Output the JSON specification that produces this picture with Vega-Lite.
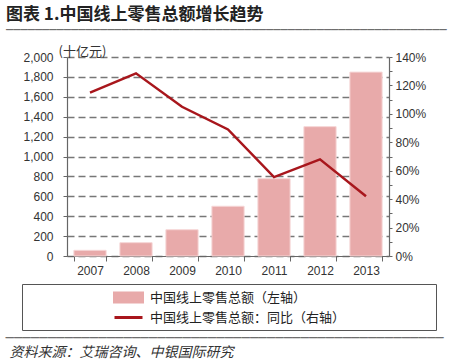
{
  "$schema": "https://vega.github.io/schema/vega-lite/v6.json",
  "autosize": "none",
  "width": 322,
  "height": 199,
  "padding": {"left": 67, "top": 57, "right": 61, "bottom": 105},
  "background": "white",
  "title": {
    "text": "图表 1.中国线上零售总额增长趋势",
    "subtitle": "_____________________________________________________________",
    "anchor": "start",
    "frame": "group",
    "dx": -61,
    "offset": 15,
    "font": "Noto Sans CJK SC",
    "fontSize": 17,
    "fontWeight": "bold",
    "color": "#222222",
    "subtitleFont": "DejaVu Sans Mono",
    "subtitleFontSize": 12,
    "subtitleFontWeight": "bold",
    "subtitleColor": "#6e6e6e",
    "subtitlePadding": -6,
    "limit": 1000
  },
  "data": {
    "values": [
      {"year": "2007", "amount": 57, "yoy": 115},
      {"year": "2008", "amount": 134, "yoy": 128.5},
      {"year": "2009", "amount": 264, "yoy": 105},
      {"year": "2010", "amount": 500, "yoy": 89},
      {"year": "2011", "amount": 777, "yoy": 55.5},
      {"year": "2012", "amount": 1300, "yoy": 68},
      {"year": "2013", "amount": 1848, "yoy": 42}
    ]
  },
  "encoding": {
    "x": {
      "field": "year",
      "type": "ordinal",
      "scale": {"paddingInner": 0.3, "paddingOuter": 0.15},
      "axis": {
        "title": "资料来源：艾瑞咨询、中银国际研究",
        "titleX": -58,
        "titleY": 100,
        "titleLimit": 1000,
        "titleAlign": "left",
        "titleAnchor": "start",
        "titleBaseline": "alphabetic",
        "titleFont": "Noto Sans CJK SC",
        "titleFontSize": 14,
        "titleFontStyle": "italic",
        "titleFontWeight": "normal",
        "titleColor": "#333333",
        "labelAngle": 0,
        "labelFont": "Liberation Sans",
        "labelFontSize": 12,
        "labelColor": "#333333",
        "labelPadding": 4,
        "tickBand": "extent",
        "tickSize": 5,
        "tickColor": "#666666",
        "domainColor": "#666666",
        "domainWidth": 1.2
      }
    }
  },
  "layer": [
    {
      "mark": {"type": "bar", "stroke": "#f6d6d6", "strokeWidth": 1},
      "encoding": {
        "y": {
          "field": "amount",
          "type": "quantitative",
          "scale": {"domain": [0, 2000], "nice": false},
          "axis": {
            "title": "(十亿元)",
            "titleAngle": 0,
            "titleX": -9,
            "titleY": -6,
            "titleAlign": "left",
            "titleBaseline": "middle",
            "titleFont": "Noto Sans CJK SC",
            "titleFontSize": 13,
            "titleFontWeight": "normal",
            "titleColor": "#333333",
            "values": [0, 200, 400, 600, 800, 1000, 1200, 1400, 1600, 1800, 2000],
            "format": ",d",
            "labelFont": "Liberation Sans",
            "labelFontSize": 12,
            "labelColor": "#333333",
            "labelPadding": 10,
            "tickSize": 4,
            "tickColor": "#666666",
            "domainColor": "#666666",
            "domainWidth": 1.2,
            "grid": true,
            "gridColor": "#777777",
            "gridWidth": 1.3,
            "gridDash": [7, 4]
          }
        },
        "color": {
          "datum": "中国线上零售总额（左轴）",
          "type": "nominal",
          "scale": {
            "domain": ["中国线上零售总额（左轴）", "中国线上零售总额：同比（右轴）"],
            "range": ["#e8aaaa", "#a8161c"]
          },
          "legend": {
            "orient": "none",
            "legendX": -45,
            "legendY": 227,
            "direction": "vertical",
            "strokeColor": "#555555",
            "padding": 5,
            "rowPadding": 1,
            "title": "xxxxxxxxxxxxxx",
            "titleColor": "transparent",
            "titleOrient": "left",
            "titleFont": "DejaVu Sans Mono",
            "titleFontSize": 10.7,
            "titlePadding": 2,
            "titleLimit": 1000,
            "labelFont": "Noto Sans CJK SC",
            "labelFontSize": 13,
            "labelColor": "#222222",
            "labelOffset": 13,
            "labelLimit": 1000,
            "labelExpr": "datum.label + '⠀⠀⠀⠀⠀⠀⠀  ⠀'",
            "symbolSize": 196,
            "encode": {
              "symbols": {
                "update": {
                  "shape": {"signal": "datum.index === 0 ? 'M-2,-0.64H2V0.64H-2Z' : 'M-2,0H2'"},
                  "fill": {"signal": "datum.index === 0 ? '#e8aaaa' : 'transparent'"},
                  "stroke": {"signal": "datum.index === 0 ? 'transparent' : '#a8161c'"},
                  "strokeWidth": {"value": 3},
                  "opacity": {"value": 1},
                  "size": {"value": 196}
                }
              }
            }
          }
        }
      }
    },
    {
      "mark": {"type": "line", "strokeWidth": 2.5},
      "encoding": {
        "y": {
          "field": "yoy",
          "type": "quantitative",
          "scale": {"domain": [0, 140], "nice": false},
          "axis": {
            "orient": "right",
            "title": "____________________________________________________",
            "titleAngle": 0,
            "titleX": -384,
            "titleY": 277,
            "titleAlign": "left",
            "titleAnchor": "start",
            "titleBaseline": "alphabetic",
            "titleLimit": 1000,
            "titleFont": "DejaVu Sans Mono",
            "titleFontSize": 14,
            "titleFontWeight": "bold",
            "titleColor": "#6e6e6e",
            "values": [0, 10, 20, 30, 40, 50, 60, 70, 80, 90, 100, 110, 120, 130, 140],
            "labelExpr": "datum.value % 20 === 0 ? datum.value + '%' : ''",
            "labelFont": "Liberation Sans",
            "labelFontSize": 12,
            "labelColor": "#333333",
            "labelPadding": 3,
            "tickSize": 3,
            "tickColor": "#666666",
            "domainColor": "#666666",
            "domainWidth": 1.2,
            "grid": false
          }
        },
        "color": {
          "datum": "中国线上零售总额：同比（右轴）",
          "type": "nominal",
          "legend": {
            "orient": "none",
            "legendX": -45,
            "legendY": 227,
            "direction": "vertical",
            "strokeColor": "#555555",
            "padding": 5,
            "rowPadding": 1,
            "title": "xxxxxxxxxxxxxx",
            "titleColor": "transparent",
            "titleOrient": "left",
            "titleFont": "DejaVu Sans Mono",
            "titleFontSize": 10.7,
            "titlePadding": 2,
            "titleLimit": 1000,
            "labelFont": "Noto Sans CJK SC",
            "labelFontSize": 13,
            "labelColor": "#222222",
            "labelOffset": 13,
            "labelLimit": 1000,
            "labelExpr": "datum.label + '⠀⠀⠀⠀⠀⠀⠀  ⠀'",
            "symbolSize": 196,
            "encode": {
              "symbols": {
                "update": {
                  "shape": {"signal": "datum.index === 0 ? 'M-2,-0.64H2V0.64H-2Z' : 'M-2,0H2'"},
                  "fill": {"signal": "datum.index === 0 ? '#e8aaaa' : 'transparent'"},
                  "stroke": {"signal": "datum.index === 0 ? 'transparent' : '#a8161c'"},
                  "strokeWidth": {"value": 3},
                  "opacity": {"value": 1},
                  "size": {"value": 196}
                }
              }
            }
          }
        }
      }
    }
  ],
  "resolve": {"scale": {"y": "independent"}},
  "config": {
    "view": {"stroke": null}
  }
}
